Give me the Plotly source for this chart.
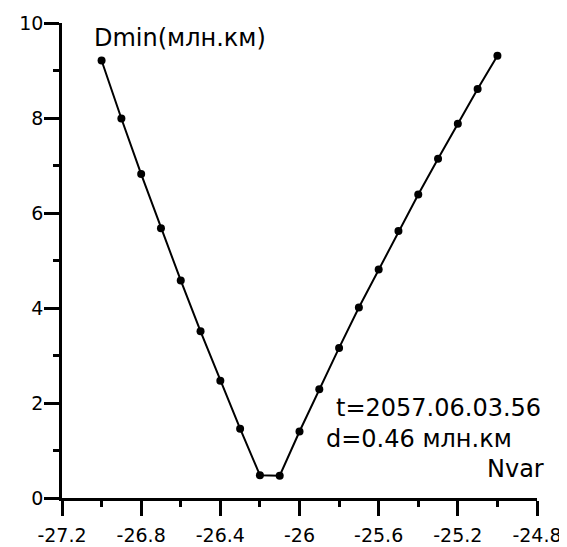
import plotly.graph_objects as go

# Data
nvar = [-27.0, -26.9, -26.8, -26.7, -26.6, -26.5, -26.4, -26.3, -26.2, -26.1,
        -26.0, -25.9, -25.8, -25.7, -25.6, -25.5, -25.4, -25.3, -25.2, -25.1, -25.0]
dmin = [9.21, 7.99, 6.82, 5.68, 4.58, 3.51, 2.47, 1.46, 0.48, 0.47,
        1.40, 2.29, 3.16, 4.01, 4.81, 5.62, 6.39, 7.14, 7.88, 8.61, 9.31]

x_tickvals = [-27.2, -26.8, -26.4, -26.0, -25.6, -25.2, -24.8]
x_ticktext = ["-27.2", "-26.8", "-26.4", "-26", "-25.6", "-25.2", "-24.8"]
x_minorvals = [-27.0, -26.6, -26.2, -25.8, -25.4, -25.0]
y_tickvals = [0, 2, 4, 6, 8, 10]
y_ticktext = ["0", "2", "4", "6", "8", "10"]
y_minorvals = [1, 3, 5, 7, 9]

y_label = "Dmin(млн.км)"
x_label = "Nvar"
info_t = "t=2057.06.03.56"
info_d = "d=0.46 млн.км"

FONT = "DejaVu Sans"

fig = go.Figure()
fig.add_trace(go.Scatter(
    x=nvar, y=dmin, mode="lines+markers",
    line=dict(color="black", width=2),
    marker=dict(color="black", size=8),
    showlegend=False,
))
# empty trace on an overlay axis pair that only carries the minor tick marks
fig.add_trace(go.Scatter(x=[None], y=[None], xaxis="x2", yaxis="y2", showlegend=False, hoverinfo="skip"))

# page has an 8px body margin; figure is placed so the plot area spans x 62..537, y 23..498
OFF = 8
W, H = 567 - OFF, 547 - OFF
L, T = 62 - OFF, 23 - OFF
R, B = 30, 49
PLOT_L, PLOT_R, PLOT_T, PLOT_B = 62, 537, 23, 498

def px(xp):
    return (xp - PLOT_L) / (PLOT_R - PLOT_L)

def py(yp):
    return (PLOT_B - yp) / (PLOT_B - PLOT_T)

main_common = dict(
    showgrid=False, zeroline=False, showline=True, linecolor="black", linewidth=2.5,
    ticks="outside", ticklen=15, tickwidth=2.5, tickcolor="black",
    tickfont=dict(family=FONT, size=19, color="black"),
)
minor_common = dict(
    showgrid=False, zeroline=False, showline=False, ticks="outside", ticklen=8,
    tickwidth=2.5, tickcolor="black", showticklabels=False,
)

fig.update_layout(
    width=W, height=H,
    margin=dict(l=L, r=R, t=T, b=B, pad=0, autoexpand=False),
    paper_bgcolor="white", plot_bgcolor="white",
    xaxis=dict(range=[-27.2, -24.8], tickmode="array", tickvals=x_tickvals, ticktext=x_ticktext,
               ticklabelstandoff=3, **main_common),
    yaxis=dict(range=[0, 10], tickmode="array", tickvals=y_tickvals, ticktext=y_ticktext,
               ticklabelstandoff=-3, **main_common),
    xaxis2=dict(range=[-27.2, -24.8], overlaying="x", side="bottom", anchor="y",
                tickmode="array", tickvals=x_minorvals, **minor_common),
    yaxis2=dict(range=[0, 10], overlaying="y", side="left", anchor="x",
                tickmode="array", tickvals=y_minorvals, **minor_common),
    annotations=[
        dict(text=y_label, xref="paper", yref="paper", x=px(92), y=py(38), xanchor="left", yanchor="middle",
             showarrow=False, font=dict(family=FONT, size=24, color="black")),
        dict(text=info_t, xref="paper", yref="paper", x=px(543), y=py(408), xanchor="right", yanchor="middle",
             showarrow=False, font=dict(family=FONT, size=24, color="black")),
        dict(text=info_d, xref="paper", yref="paper", x=px(324), y=py(439), xanchor="left", yanchor="middle",
             showarrow=False, font=dict(family=FONT, size=24, color="black")),
        dict(text=x_label, xref="paper", yref="paper", x=px(546), y=py(469), xanchor="right", yanchor="middle",
             showarrow=False, font=dict(family=FONT, size=24, color="black")),
    ],
)

fig.write_html("out.html")
